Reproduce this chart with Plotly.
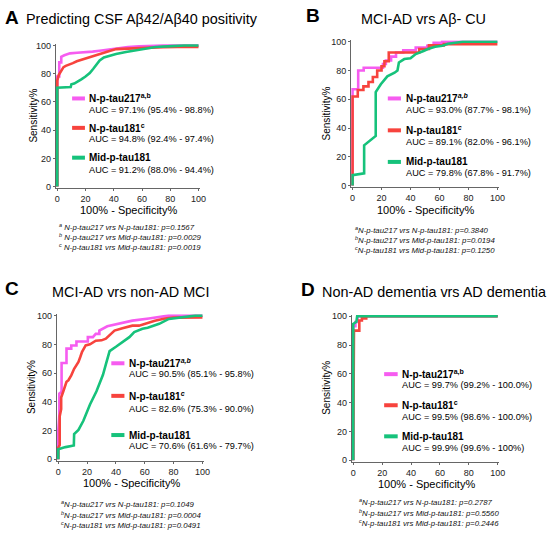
import plotly.graph_objects as go

W, H = 560, 542

# ---------------- data (100% - specificity, sensitivity) ----------------
# Panel A: Predicting CSF Abeta42/Abeta40 positivity
A_fpr_217 = [0, 0, 1.4, 1.4, 2.8, 2.8, 5, 9, 14, 18, 25, 30, 36, 42, 50, 58, 65, 75, 85, 100]
A_tpr_217 = [0, 78, 78, 88, 88, 92, 93, 94.4, 94.8, 95, 95.6, 96.3, 97.2, 98, 98.8, 99.4, 99.8, 100, 100, 100]
A_fpr_181 = [0, 0, 1, 2, 3, 4.4, 6, 9, 11, 13.8, 16, 18.4, 22, 25.4, 29, 32.4, 37, 41.7, 50, 60, 65, 75, 85, 100]
A_tpr_181 = [0, 75, 79, 81, 82, 84.6, 85.5, 87, 87.5, 88.8, 89.5, 90.4, 91.5, 92.8, 94, 95, 96, 97.4, 97.8, 98.3, 98.6, 98.8, 99, 99]
A_fpr_mid = [0, 0, 9.5, 10, 12, 14, 17, 20, 23, 25.5, 27.6, 30, 33, 37, 41.6, 48.6, 58, 69.6, 81, 90, 100]
A_tpr_mid = [0, 70, 70.5, 72.5, 73, 74, 76, 78, 80.5, 83.5, 86.5, 89.3, 91.5, 92.8, 94, 95.4, 97.2, 98.9, 99.5, 100, 100]

# Panel B: MCI-AD vrs Abeta- CU
B_fpr_217 = [0, 0, 3.9, 3.9, 7.7, 7.7, 21, 21, 23, 23, 26.6, 26.6, 30, 30, 35, 35, 43.6, 43.6, 51.6, 51.6, 56, 56, 61.8, 61.8, 100]
B_tpr_217 = [0, 67, 67, 80, 80, 82, 82, 84.6, 84.6, 87, 87, 89.7, 89.7, 92.6, 92.6, 94, 94, 96, 96, 97.2, 97.2, 99.3, 99.3, 100, 100]
B_fpr_181 = [0, 0, 3.6, 3.6, 7.5, 7.5, 11, 11, 14, 14, 17, 17, 20, 20, 22, 22, 25, 25, 46, 46, 52.7, 52.7, 63, 63, 100]
B_tpr_181 = [0, 62, 62, 66.5, 66.5, 69, 69, 72, 72, 75.5, 75.5, 80, 80, 83, 83, 86.5, 86.5, 92.6, 92.6, 95, 95, 97.5, 97.5, 98.4, 98.4]
B_fpr_mid = [0, 0, 8, 8, 16, 16, 19.5, 24, 29, 31, 32, 35.7, 40, 43.6, 49, 52, 57, 62, 66, 71, 76, 100]
B_tpr_mid = [0, 7.3, 8.5, 28, 34.5, 65, 70.5, 76, 78.5, 80, 85.6, 88, 88.5, 91.5, 93.6, 95, 96.5, 97.2, 98.6, 99.3, 100, 100]

# Panel C: MCI-AD vrs non-AD MCI
C_fpr_217 = [0, 0, 0.7, 0.7, 2.3, 2.3, 5.7, 5.7, 9, 9, 12.6, 12.6, 20.5, 20.5, 24, 26, 28.5, 28.5, 34, 42, 51.4, 62.8, 76.5, 100]
C_tpr_217 = [0, 20, 30, 45.7, 47, 67, 67, 77, 77, 79.2, 79.2, 82, 82, 85, 85, 87.3, 87.3, 89.6, 92.6, 94.2, 96.5, 98, 100, 100]
C_fpr_181 = [0, 0, 1, 1, 2, 2, 3.4, 5.7, 7, 9, 11, 12.5, 14, 15.2, 16.5, 19, 22, 26, 30, 33, 35.4, 37, 39, 44.5, 51.4, 56, 62.8, 67, 74, 80, 100]
C_tpr_181 = [0, 8, 10, 30, 35, 43, 47, 54, 55, 58.4, 63, 65, 67.8, 71, 74.8, 79.3, 80, 82.5, 82.8, 84, 86, 87.5, 89.6, 91.2, 93, 93, 95.4, 96.5, 98, 98.6, 98.8]
C_fpr_mid = [0, 0, 5, 10.8, 11, 14, 17.4, 22, 26.5, 31, 33, 35.6, 40, 44.7, 49.3, 52.7, 58.4, 62, 70, 76.7, 86, 95, 100]
C_tpr_mid = [0, 7, 8.5, 9.6, 17.6, 20.5, 26.8, 38.2, 47.4, 58.8, 66, 75.3, 78.3, 81.7, 85, 88.5, 90.8, 91.5, 94.3, 97.7, 99, 100, 100]

# Panel D: Non-AD dementia vrs AD dementia
D_fpr_217 = [0, 0, 1.5, 1.5, 3, 3, 100]
D_tpr_217 = [0, 93, 93, 96, 96, 100, 100]
D_fpr_181 = [0, 0, 0.5, 0.5, 4.2, 4.2, 6, 6, 9, 9, 100]
D_tpr_181 = [0, 89, 89, 90, 90, 97, 97, 98.5, 98.5, 100, 100]
D_fpr_mid = [0, 0, 2.2, 2.7, 100]
D_tpr_mid = [0, 94.6, 96.2, 100, 100]

tick_vals = [0, 20, 40, 60, 80, 100]
tick_text = ["0", "20", "40", "60", "80", "100"]

PINK = "#F65CF0"
RED = "#F7433D"
GREEN = "#16C27B"
FONT = "Liberation Sans, Arial, Helvetica, sans-serif"


def px_x(x):
    return x / W


def px_y(y):
    return 1 - y / H


def xdom(p0, p100, lo=-1.0, hi=101.0):
    s = (p100 - p0) / 100
    return [px_x(p0 + lo * s), px_x(p0 + hi * s)]


def ydom(p0, p100, lo=-1.0, hi=101.0):
    s = (p100 - p0) / 100
    return [px_y(p0 + lo * s), px_y(p0 + hi * s)]


panels = [
    dict(key="A", ax="", x0=57, x100=200, y0=186, y100=43,
         series=[(A_fpr_217, A_tpr_217), (A_fpr_181, A_tpr_181), (A_fpr_mid, A_tpr_mid)],
         letter=(2, 15), title="Predicting CSF Aβ42/Aβ40 positivity", title_pos=(142.5, 16),
         sup217="a,b", sup181="c", ital=False,
         leg_sw=(72, 85), leg_tx=87, leg_y=[(96.7, 108.3), (126.5, 137.8), (156.7, 169.3)],
         auc=["AUC = 97.1% (95.4% - 98.8%)", "AUC = 94.8% (92.4% - 97.4%)", "AUC = 91.2% (88.0% - 94.4%)"],
         ytitle=(32, 114.5), xtitle=(129, 209.5),
         foot_x=56.7, foot_y=[226.5, 237, 247.5], foot_sp=" ",
         foot=["N-p-tau217 vrs N-p-tau181: p=0.1567", "N-p-tau217 vrs Mid-p-tau181: p=0.0029",
               "N-p-tau181 vrs Mid-p-tau181: p=0.0019"]),
    dict(key="B", ax="2", x0=356, x100=502.7, y0=185, y100=39.3,
         series=[(B_fpr_217, B_tpr_217), (B_fpr_181, B_tpr_181), (B_fpr_mid, B_tpr_mid)],
         letter=(306.5, 13), title="MCI-AD vrs Aβ- CU", title_pos=(428, 16),
         sup217="a,b", sup181="c", ital=True,
         leg_sw=(391.7, 405), leg_tx=407.7, leg_y=[(96.7, 108.3), (129, 141), (161, 172.5)],
         auc=["AUC = 93.0% (87.7% - 98.1%)", "AUC = 89.1% (82.0% - 96.1%)", "AUC = 79.8% (67.8% - 91.7%)"],
         ytitle=(330, 112), xtitle=(429.5, 209.5),
         foot_x=356.7, foot_y=[229.5, 240, 250.7], foot_sp="",
         foot=["N-p-tau217 vrs N-p-tau181: p=0.3840", "N-p-tau217 vrs Mid-p-tau181: p=0.0194",
               "N-p-tau181 vrs Mid-p-tau181: p=0.1250"]),
    dict(key="C", ax="3", x0=58, x100=204, y0=462.3, y100=316.7,
         series=[(C_fpr_217, C_tpr_217), (C_fpr_181, C_tpr_181), (C_fpr_mid, C_tpr_mid)],
         letter=(2, 289), title="MCI-AD vrs non-AD MCI", title_pos=(132, 292.5),
         sup217="a,b", sup181="c", ital=True,
         leg_sw=(111.7, 125), leg_tx=127.7, leg_y=[(365, 376.3), (398, 411.5), (437.7, 449)],
         auc=["AUC = 90.5% (85.1% - 95.8%)", "AUC = 82.6% (75.3% - 90.0%)", "AUC = 70.6% (61.6% - 79.7%)"],
         ytitle=(31, 389.5), xtitle=(132, 486),
         foot_x=58.3, foot_y=[507.3, 518.5, 529.3], foot_sp="",
         foot=["N-p-tau217 vrs N-p-tau181: p=0.1049", "N-p-tau217 vrs Mid-p-tau181: p=0.0004",
               "N-p-tau181 vrs Mid-p-tau181: p=0.0491"]),
    dict(key="D", ax="4", x0=356.7, x100=503, y0=463.3, y100=317.3,
         series=[(D_fpr_217, D_tpr_217), (D_fpr_181, D_tpr_181), (D_fpr_mid, D_tpr_mid)],
         letter=(301.5, 290), title="Non-AD dementia vrs AD dementia", title_pos=(438.5, 292.5),
         sup217="a,b", sup181="c", ital=False,
         leg_sw=(388, 401.7), leg_tx=404.3, leg_y=[(376, 387), (407.5, 419), (439, 450.5)],
         auc=["AUC = 99.7% (99.2% - 100.0%)", "AUC = 99.5% (98.6% - 100.0%)", "AUC = 99.9% (99.6% - 100%)"],
         ytitle=(330, 390), xtitle=(430.5, 487.5),
         foot_x=360, foot_y=[506, 516.5, 527], foot_sp="",
         foot=["N-p-tau217 vrs N-p-tau181: p=0.2787", "N-p-tau217 vrs Mid-p-tau181: p=0.5560",
               "N-p-tau181 vrs Mid-p-tau181: p=0.2446"]),
]

colors = [PINK, RED, GREEN]
names = ["N-p-tau217", "N-p-tau181", "Mid-p-tau181"]

fig = go.Figure()
layout = dict(
    width=W, height=H, margin=dict(l=0, r=0, t=0, b=0),
    paper_bgcolor="white", plot_bgcolor="white", showlegend=False,
    font=dict(family=FONT, color="#111"),
)
annotations = []
shapes = []

AXIS_COLOR = "#666"

for p in panels:
    ax = p["ax"]
    xa = "xaxis" + ax
    ya = "yaxis" + ax
    common = dict(range=[-1, 101], tickmode="array", tickvals=tick_vals, ticktext=tick_text,
                  showgrid=False, zeroline=False, showline=True, linecolor=AXIS_COLOR, linewidth=1,
                  ticks="outside", ticklen=2, tickwidth=1, tickcolor=AXIS_COLOR,
                  tickfont=dict(size=9, family=FONT, color="#222"), fixedrange=True)
    layout[xa] = dict(common, domain=xdom(p["x0"], p["x100"]), anchor="y" + ax)
    layout[ya] = dict(common, domain=ydom(p["y0"], p["y100"]), anchor="x" + ax)

    for (fx, ty), c, n in zip(p["series"], colors, names):
        fig.add_trace(go.Scatter(x=fx, y=ty, mode="lines", name=n,
                                 line=dict(color=c, width=2.6),
                                 xaxis="x" + ax, yaxis="y" + ax, hoverinfo="skip"))

    # panel letter and title
    lx, ly = p["letter"]
    annotations.append(dict(text="<b>%s</b>" % p["key"], x=px_x(lx), y=px_y(ly), xref="paper", yref="paper",
                            xanchor="left", yanchor="middle", showarrow=False,
                            font=dict(size=19, family=FONT, color="#000")))
    tx, ty_ = p["title_pos"]
    annotations.append(dict(text=p["title"], x=px_x(tx), y=px_y(ty_), xref="paper", yref="paper",
                            xanchor="center", yanchor="middle", showarrow=False,
                            font=dict(size=14.4, family=FONT, color="#000")))

    # legend
    sups = [p["sup217"], p["sup181"], None]
    for i in range(3):
        ny, ay = p["leg_y"][i]
        sw0, sw1 = p["leg_sw"]
        shapes.append(dict(type="line", xref="paper", yref="paper",
                           x0=px_x(sw0), x1=px_x(sw1), y0=px_y(ny), y1=px_y(ny),
                           line=dict(color=colors[i], width=4)))
        s = sups[i]
        if s:
            sup = "<i>%s</i>" % s if p["ital"] else s
            label = "<b>%s<sup>%s</sup></b>" % (names[i], sup)
        else:
            label = "<b>%s</b>" % names[i]
        annotations.append(dict(text=label, x=px_x(p["leg_tx"]), y=px_y(ny), xref="paper", yref="paper",
                                xanchor="left", yanchor="middle", showarrow=False,
                                font=dict(size=10, family=FONT, color="#000")))
        annotations.append(dict(text=p["auc"][i], x=px_x(p["leg_tx"]), y=px_y(ay), xref="paper", yref="paper",
                                xanchor="left", yanchor="middle", showarrow=False,
                                font=dict(size=9.2, family=FONT, color="#000")))

    # axis titles
    yx, yy = p["ytitle"]
    annotations.append(dict(text="Sensitivity%", x=px_x(yx), y=px_y(yy), xref="paper", yref="paper",
                            xanchor="center", yanchor="middle", textangle=-90, showarrow=False,
                            font=dict(size=10, family=FONT, color="#000")))
    xx, xy = p["xtitle"]
    annotations.append(dict(text="100% - Specificity%", x=px_x(xx), y=px_y(xy), xref="paper", yref="paper",
                            xanchor="center", yanchor="middle", showarrow=False,
                            font=dict(size=11, family=FONT, color="#000")))

    # footnotes
    for letter, fy, ft in zip(["a", "b", "c"], p["foot_y"], p["foot"]):
        annotations.append(dict(text="<i><sup>%s</sup>%s%s</i>" % (letter, p["foot_sp"], ft),
                                x=px_x(p["foot_x"]), y=px_y(fy), xref="paper", yref="paper",
                                xanchor="left", yanchor="middle", showarrow=False,
                                font=dict(size=7.8, family=FONT, color="#111")))

layout["annotations"] = annotations
layout["shapes"] = shapes
fig.update_layout(**layout)
fig.write_html("out.html", config={"displayModeBar": False},
               post_script="document.body.style.margin='0';document.body.style.padding='0';"
                           "document.body.style.overflow='hidden';")
